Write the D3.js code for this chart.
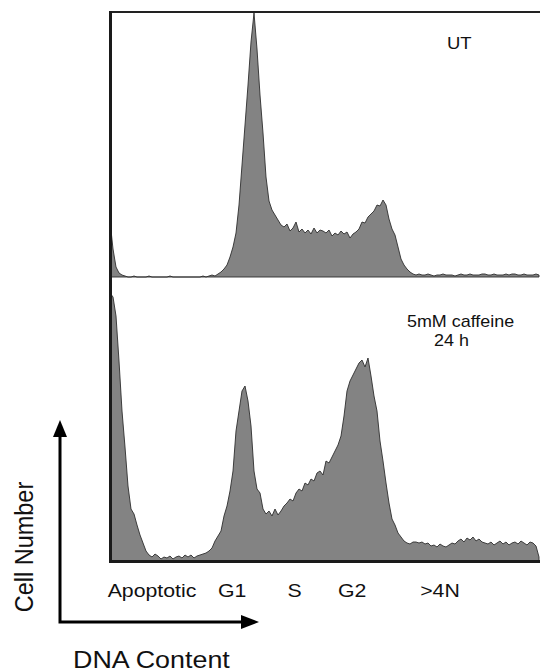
<!DOCTYPE html>
<html lang="en">

<head>
    <meta charset="UTF-8">
    <title>DNA content histograms</title>
    <script src="https://d3js.org/d3.v7.min.js"></script>
    <style>
        body {
            margin: 0;
            background: #fff;
        }

        text {
            font-family: "Liberation Sans", Arial, sans-serif;
            fill: #111;
        }
    </style>
</head>

<body>
    <svg id="chart" width="540" height="672"></svg>
    <script>

        // cell counts per channel (channel 0..143)
        let untreated = [
            56, 28, 10, 4, 2, 1,
            0, 0, 1, 0, 0, 0, 0, 1, 0, 0, 0, 0, 0, 0, 1, 0, 0, 0, 0, 0, 0, 0, 0, 0, 0, 1, 0,
            1, 2, 1, 3, 5, 8, 12, 20, 30,
            44, 72, 112, 152, 192, 235, 264, 228, 182, 144,
            100, 76, 67, 62, 57, 52, 50, 53, 46, 49, 55, 45, 48, 44, 47, 43, 49, 44, 47,
            46, 44, 47, 41, 44, 42, 46, 43, 45, 39, 43, 45, 48, 55, 54, 60, 63, 66, 72, 71,
            77, 72, 58, 48, 42, 30, 18, 12, 8, 5, 3,
            2, 3, 2, 2, 3, 2, 1, 2, 2, 3, 2, 2, 2, 1, 2, 3, 2, 2, 3, 2,
            2, 2, 3, 3, 2, 2, 3, 2, 2, 2, 3, 2, 3, 3, 2, 2, 3, 2, 2, 2, 3, 2
        ]
        let caffeine = [
            268, 264, 245, 200, 150, 114, 75, 52, 47, 36, 26, 18, 10, 6, 4,
            7, 5, 2, 4, 3, 5, 2, 4, 5, 3, 6, 4, 6, 3, 5, 6, 7, 8, 10, 13,
            20, 25, 30, 45, 55, 70, 90, 130, 150, 170, 175, 160, 135, 90, 72,
            68, 52, 47, 50, 45, 52, 46, 50, 55, 58, 62, 60, 68, 72, 70, 78, 76, 82, 80, 88,
            90, 86, 100, 98, 104, 110, 116, 125,
            145, 170, 180, 186, 192, 198, 201, 194, 203, 185,
            165, 150, 120, 100, 78, 58, 42, 36, 28, 24, 20, 18, 17, 19,
            19, 18, 19, 17, 18,
            15, 16, 14, 17, 15, 14, 16, 18, 17,
            20, 22, 19, 23, 21, 24, 20, 22, 19,
            18, 17, 19, 16, 18, 20, 17, 19, 16, 18, 19, 17, 20, 18, 16, 19, 18, 15,
            4
        ]
        let phaseLabels = ["Apoptotic", "G1", "S", "G2", ">4N"]
        let phaseChannels = [14, 40.7, 61.5, 80.7, 110]
        let topLabel = ["UT"]
        let bottomLabel = ["5mM caffeine", "24 h"]

        let svg = d3.select("#chart")
        let stretch = 1.12   // the figure's lettering is a little wide

        let x = d3.scaleLinear().domain([0, untreated.length - 1]).range([110, 539])
        let yTop = d3.scaleLinear().domain([0, 265]).range([277, 12])
        let yBot = d3.scaleLinear().domain([0, 280]).range([561, 281])

        function drawHist(values, y) {
            let area = d3.area()
                .x((d, i) => x(i))
                .y0(y(0))
                .y1(d => y(d))
            svg.append("path")
                .datum(values)
                .attr("d", area)
                .attr("fill", "#838383")
                .attr("stroke", "#2e2e2e")
                .attr("stroke-width", 0.9)
                .attr("stroke-linejoin", "round")
        }

        drawHist(untreated, yTop)
        drawHist(caffeine, yBot)

        // frame: top edge, left edge, bottom baseline
        svg.append("line")
            .attr("x1", 109).attr("x2", 540)
            .attr("y1", 12).attr("y2", 12)
            .attr("stroke", "#222").attr("stroke-width", 2.2)
        svg.append("line")
            .attr("x1", 110.5).attr("x2", 110.5)
            .attr("y1", 11).attr("y2", 563)
            .attr("stroke", "#1a1a1a").attr("stroke-width", 3)
        svg.append("line")
            .attr("x1", 109).attr("x2", 540)
            .attr("y1", 561.5).attr("y2", 561.5)
            .attr("stroke", "#1a1a1a").attr("stroke-width", 3)

        function label(txt, tx, ty, size, anchor) {
            svg.append("text")
                .attr("transform", `translate(${tx},${ty}) scale(${stretch},1)`)
                .attr("text-anchor", anchor || "start")
                .style("font-size", size + "px")
                .text(txt)
        }

        label(topLabel[0], 447, 49, 16.5)
        label(bottomLabel[0], 407, 327, 16)
        label(bottomLabel[1], 434, 346, 16)

        phaseLabels.forEach((p, i) => {
            label(p, x(phaseChannels[i]), 597, 19, "middle")
        })

        // axis arrows
        let ax = 60, ay = 622
        svg.append("path")
            .attr("d", `M${ax},436 L${ax},${ay} L242,${ay}`)
            .attr("fill", "none").attr("stroke", "#000").attr("stroke-width", 3)
        svg.append("path")
            .attr("d", `M${ax},420 L${ax - 7},437 L${ax + 7},437 Z`)
            .attr("fill", "#000")
        svg.append("path")
            .attr("d", `M259,${ay} L241,${ay - 7} L241,${ay + 7} Z`)
            .attr("fill", "#000")

        label("DNA Content", 73, 668, 24)
        svg.append("text")
            .attr("transform", `translate(33,547) rotate(-90) scale(1,${stretch})`)
            .attr("text-anchor", "middle")
            .style("font-size", "23.5px")
            .text("Cell Number")

    </script>
</body>

</html>
